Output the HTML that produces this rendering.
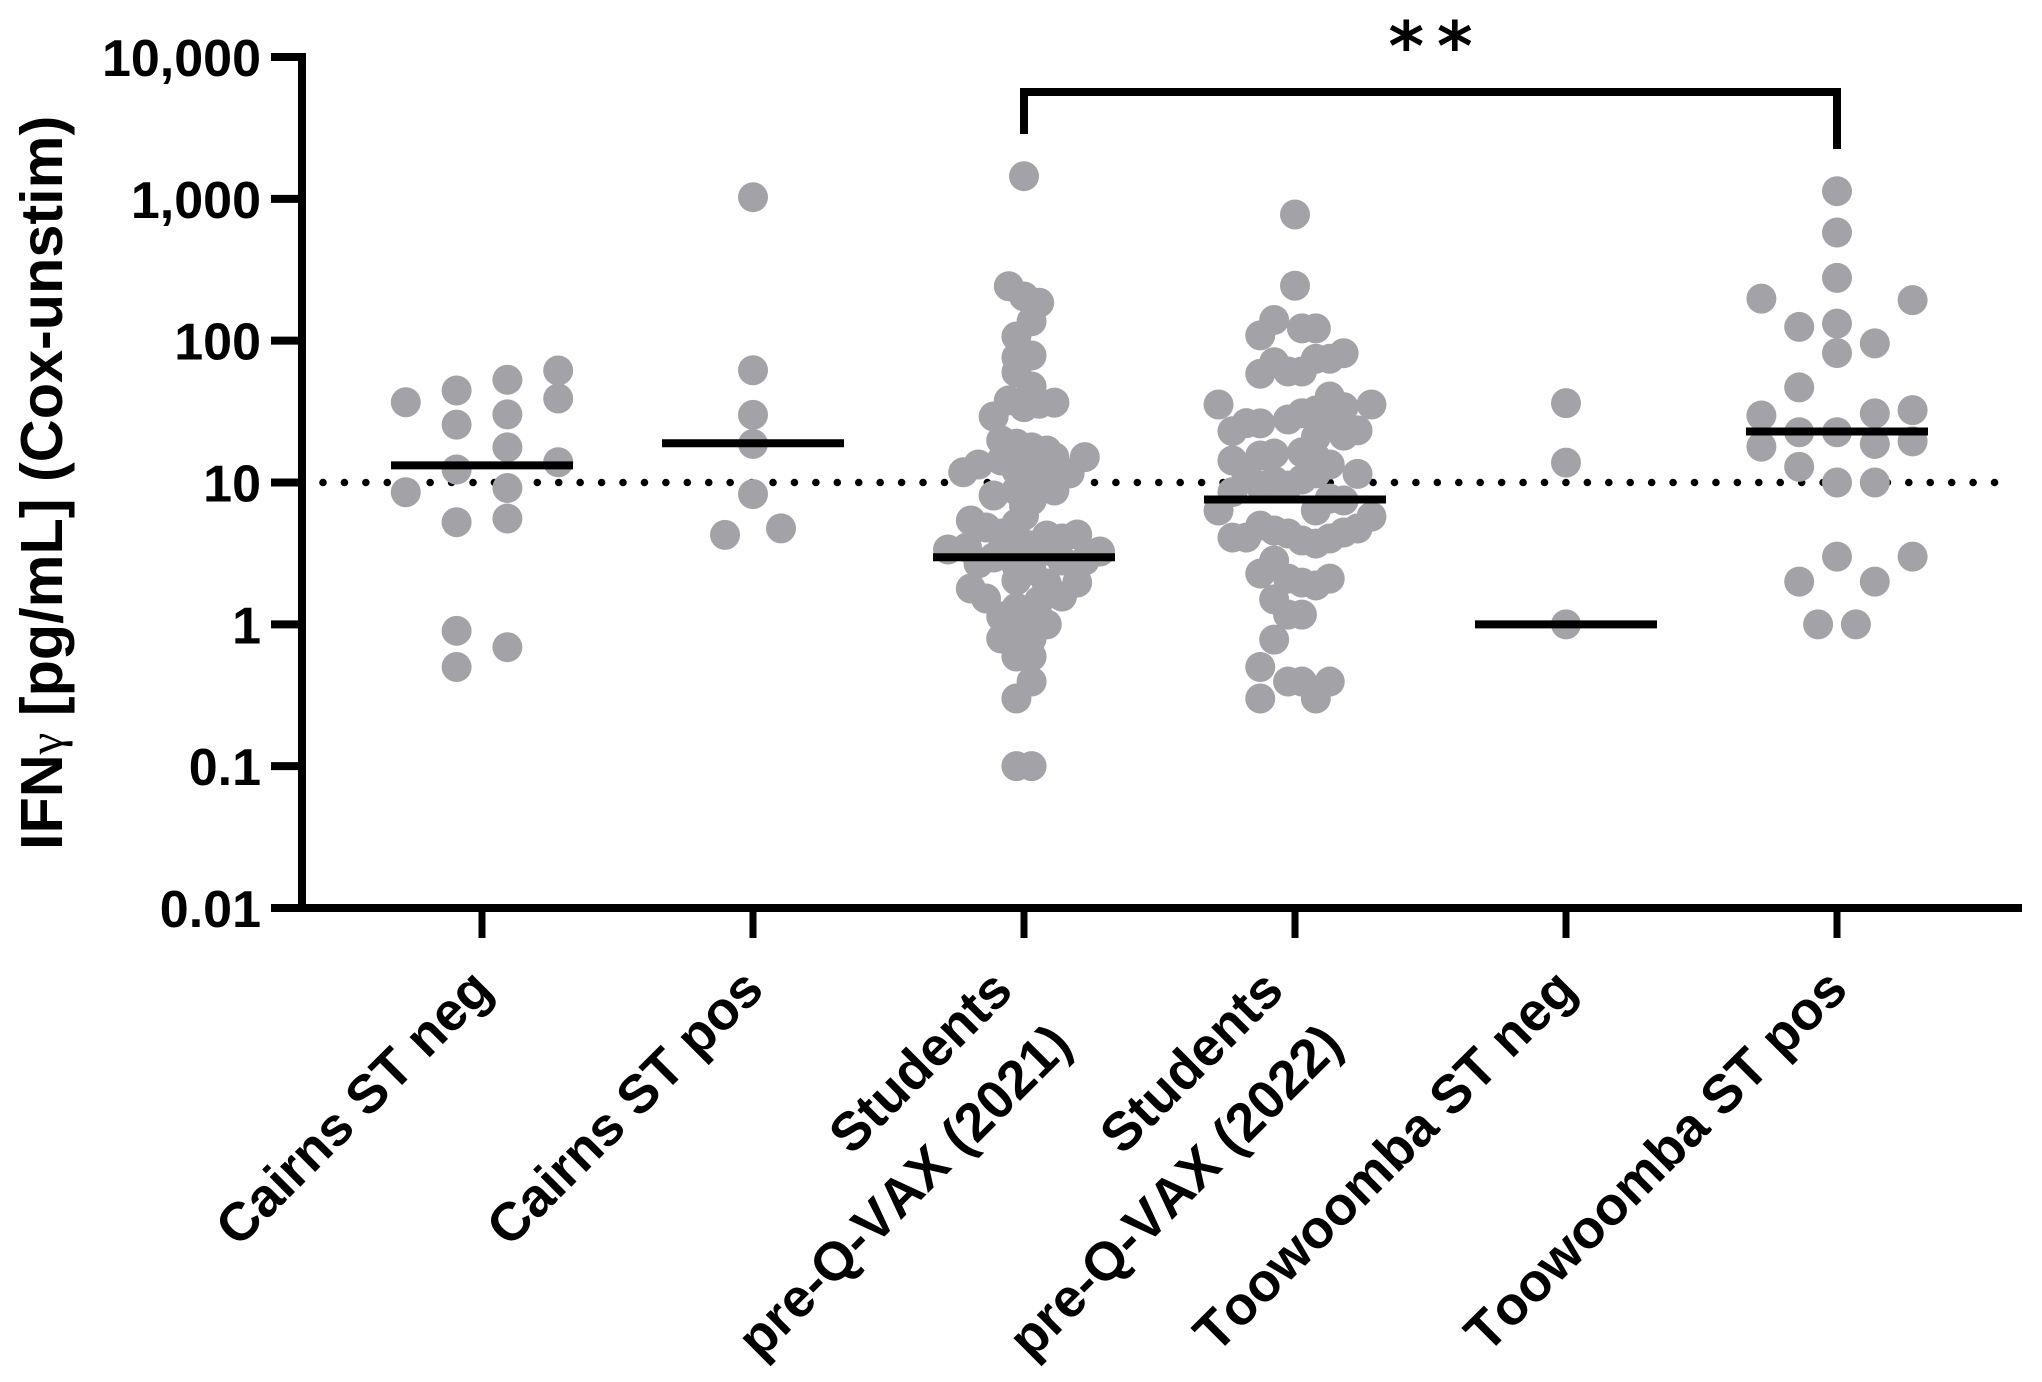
<!DOCTYPE html>
<html lang="en">
<head>
<meta charset="utf-8">
<title>IFN-gamma scatter chart</title>
<style>
html,body{margin:0;padding:0;background:#fff;}
svg{display:block;}
text{font-family:"Liberation Sans",Arial,sans-serif;font-weight:700;fill:#000;font-kerning:none;}
</style>
</head>
<body>
<svg id="chart" xmlns="http://www.w3.org/2000/svg" width="2042" height="1382" viewBox="0 0 2042 1382">
  <rect x="0" y="0" width="2042" height="1382" fill="#ffffff"/>
  <text transform="translate(62,850) rotate(-90)" font-size="59.4">IFN<tspan style="font-family:'Liberation Serif',serif;font-weight:400" font-size="49">γ</tspan> [pg/mL] (Cox-unstim)</text>
  <text x="1437" y="70" text-anchor="middle" font-size="68" letter-spacing="13" style="font-family:'DejaVu Sans',sans-serif;font-weight:700">**</text>
</svg>
<script>
// ---- chart data ----
const categories = [
  ["Cairns ST neg"],
  ["Cairns ST pos"],
  ["Students", "pre-Q-VAX (2021)"],
  ["Students", "pre-Q-VAX (2022)"],
  ["Toowoomba ST neg"],
  ["Toowoomba ST pos"]
];
const tickValues = [10000, 1000, 100, 10, 1, 0.1, 0.01];
const tickLabels = ["10,000", "1,000", "100", "10", "1", "0.1", "0.01"];
const referenceValue = 10;
const medians = [13.2, 18.9, 2.97, 7.59, 1, 22.9];

const valuesCairnsNeg = [61.6,53,44.5,39.1,36.8,30.2,25.6,17.7,13.9,12.35,9.15,8.54,5.57,5.25,0.9,0.69,0.5];
const swarmCairnsNeg  = [3,1,-1,3,-3,1,-1,1,3,-1,1,-3,1,-1,-1,1,-1];

const valuesCairnsPos = [1027,61.9,30,18.7,8.28,4.27,4.75];
const swarmCairnsPos  = [0,0,0,0,0,-1,1];

const valuesStudents2021 = [1444,242,205,185,137,107,78.6,76,60,47.5,37.9,34,35.9,36.6,29.2,19.8,18.8,17.7,16.8,15.1,15.1,13.4,11.8,11.6,8.78,8.1,15.5,13.2,12.15,10.3,11.2,14.3,8.78,7.46,6.89,5.14,5.85,5.4,4.82,4.37,4.23,4.03,4.3,3.37,3.48,3.26,2.69,2.82,2.96,2.96,2.82,3.6,3.6,3.3,3.3,2.6,2.4,1.79,1.97,1.52,1.57,2.04,1.94,1.135,1.0,1.31,1.25,1.47,0.794,0.861,0.794,0.593,0.593,0.395,0.3,0.1,0.1];
const swarmStudents2021  = [0,-2,0,2,1,-1,1,-1,-1,1,-2,0,2,4,-4,-3,-1,1,3,4,8,-6,-8,6,4,-4,-1,1,-1,1,3,-3,-1,1,0,-1,0,-7,-5,-3,3,5,7,-10,-7.5,10,-6,8,-4,1,5,-1,1,-3,3,-1,1,-7,7,-5,5,-1,3,-3,3,-1,1,2,-3,-1,1,-1,1,1,-1,-1,1];

const valuesStudents2022 = [776,244,140,109,122,122,58.4,70.5,60.6,60.6,74.5,74.5,81.6,35.5,35.5,40.4,34,26.2,26.1,23,27.8,30.8,32.2,28.9,21.4,23.3,20.9,14.3,15.5,16,16.3,15,13.4,11.5,11.6,10.3,10.5,8.55,11.6,9.5,9.5,6.35,5.75,6.35,7.7,7.46,4.09,4.09,4.97,4.59,4.37,3.9,3.71,4.03,4.44,4.74,2.82,2.28,2.1,1.97,1.88,2.1,1.5,1.17,1.17,0.78,0.5,0.395,0.395,0.395,0.3,0.3];
const swarmStudents2022  = [0,0,-3,-5,1,3,-5,-3,-1,1,3,5,7,-11,11,5,7,-7,-5,-9,-1,1,3,5,7,9,3,-9,-5,-3,1,3,5,9,-7,-3,1,-9,3,-5,-1,-11,11,3,5,7,-9,-7,-5,-3,-1,1,3,5,7,9,-3,-5,-1,1,3,5,-3,-1,1,-3,-5,-1,1,5,-5,3];

const valuesToowoombaNeg = [36.3,13.8,1];
const swarmToowoombaNeg  = [0,0,0];

const valuesToowoombaPos = [1132,579,277,132,81.9,198,125,95.7,193,46.8,29.7,30.7,32.4,22.6,22.6,18.7,19.5,17.9,12.9,10,10,3,3,2,2,1,1];
const swarmToowoombaPos  = [0,0,0,0,0,-4,-2,2,4,-2,-4,2,4,-2,0,2,4,-4,-2,0,2,0,4,-2,2,-1,1];

const seriesValues = [valuesCairnsNeg, valuesCairnsPos, valuesStudents2021, valuesStudents2022, valuesToowoombaNeg, valuesToowoombaPos];
const seriesSwarm  = [swarmCairnsNeg, swarmCairnsPos, swarmStudents2021, swarmStudents2022, swarmToowoombaNeg, swarmToowoombaPos];
const seriesNames  = ["cairns-neg", "cairns-pos", "students-2021", "students-2022", "toowoomba-neg", "toowoomba-pos"];

// ---- axis functions ----
const plotTop = 57, plotBottom = 908, axisX = 302, axisRight = 2022;
const yDecadeMax = 4, yDecadeMin = -2;
function yScale(v) {
  return plotTop + (yDecadeMax - Math.log10(v)) / (yDecadeMax - yDecadeMin) * (plotBottom - plotTop);
}
const firstCategoryX = 482, categoryStep = 271;
function xScale(i) { return firstCategoryX + i * categoryStep; }
const swarmStep = [25.4, 28, 7.6, 6.95, 0, 18.9];

const svg = document.getElementById('chart');
const NS = 'http://www.w3.org/2000/svg';
function mk(tag, attrs) {
  const el = document.createElementNS(NS, tag);
  for (const k in attrs) el.setAttribute(k, attrs[k]);
  return el;
}
const INK = '#000000', DOT = '#a3a3a7';

// reference line
const refLine = mk('line', {x1: 323, x2: 2014, y1: yScale(referenceValue), y2: yScale(referenceValue), stroke: INK, 'stroke-width': 7.6, 'stroke-linecap': 'round', 'stroke-dasharray': '0 21.43'});


svg.appendChild(refLine);

// points
seriesValues.forEach(function (vals, g) {
  const group = mk('g', {});
  
  
  vals.forEach(function (v, i) {
    const c = mk('circle', {cx: xScale(g) + seriesSwarm[g][i] * swarmStep[g], cy: yScale(v), r: 15, fill: DOT});
    
    
    group.appendChild(c);
  });
  svg.appendChild(group);
});

// median bars
medians.forEach(function (m, g) {
  const l = mk('line', {x1: xScale(g) - 91, x2: xScale(g) + 91, y1: yScale(m), y2: yScale(m), stroke: INK, 'stroke-width': 8});
  
  
  svg.appendChild(l);
});

// y axis
const yAxisLine = mk('line', {x1: axisX, x2: axisX, y1: plotTop - 4, y2: plotBottom + 4, stroke: INK, 'stroke-width': 8});


svg.appendChild(yAxisLine);
tickValues.forEach(function (v, i) {
  const t = mk('line', {x1: 271, x2: axisX, y1: yScale(v), y2: yScale(v), stroke: INK, 'stroke-width': 8});
  
  
  svg.appendChild(t);
  const lab = mk('text', {x: 261, y: yScale(v) + 19, 'text-anchor': 'end', 'font-size': 52});
  
  
  lab.textContent = tickLabels[i];
  svg.appendChild(lab);
});

// x axis
const xAxisLine = mk('line', {x1: 271, x2: axisRight, y1: plotBottom, y2: plotBottom, stroke: INK, 'stroke-width': 8});


svg.appendChild(xAxisLine);
categories.forEach(function (lines, g) {
  const t = mk('line', {x1: xScale(g), x2: xScale(g), y1: plotBottom, y2: 938, stroke: INK, 'stroke-width': 7});
  
  
  svg.appendChild(t);
  lines.forEach(function (line, n) {
    let ax, ay;
    if (lines.length === 1) { ax = xScale(g) + 13; ay = 992; }
    else { ax = xScale(g) - 9 + n * 59; ay = 993 + n * 54; }
    const lab = mk('text', {transform: 'translate(' + ax + ',' + ay + ') rotate(-45)', 'text-anchor': 'end', 'font-size': 54});
    
    
    lab.textContent = line;
    svg.appendChild(lab);
  });
});

// significance bracket between groups 3 and 6
const bracketLeft = xScale(2), bracketRight = xScale(5);
const bracket = mk('path', {d: 'M' + bracketLeft + ' 134V92H' + bracketRight + 'V149', fill: 'none', stroke: INK, 'stroke-width': 8});


svg.appendChild(bracket);
</script>
</body>
</html>
